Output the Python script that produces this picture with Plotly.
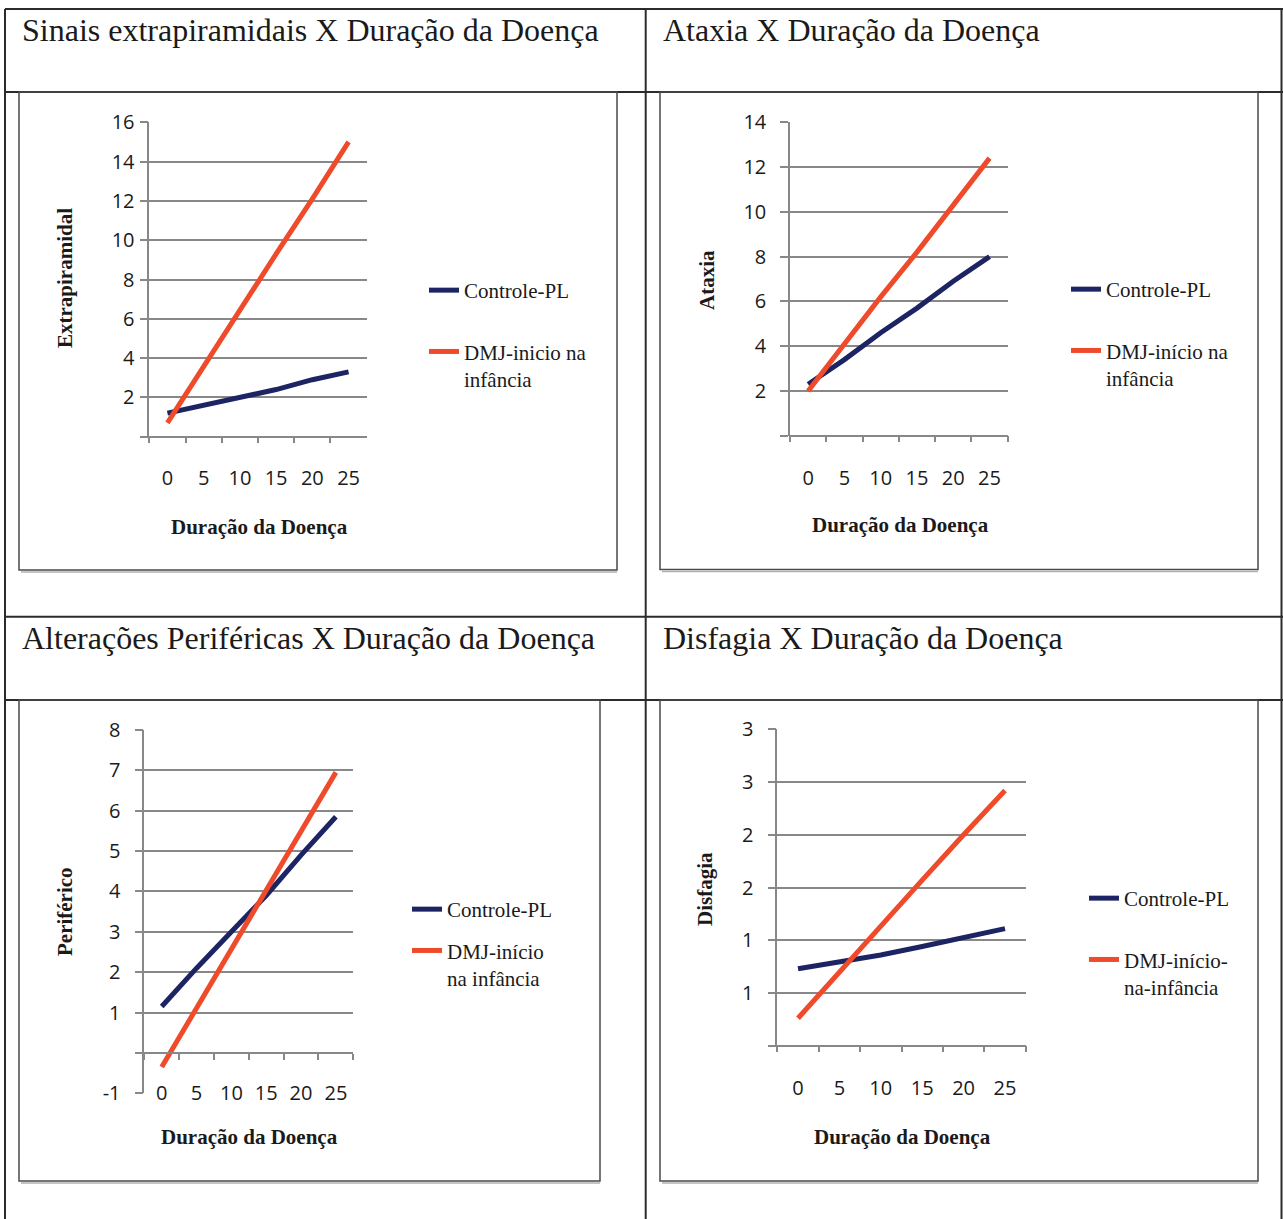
import plotly.graph_objects as go

# ---------------- data ----------------
duracao = ["0", "5", "10", "15", "20", "25"]

extra_controle = [1.2, 1.6, 2.0, 2.4, 2.9, 3.3]
extra_dmj = [0.7, 3.6, 6.4, 9.3, 12.1, 15.0]

ataxia_controle = [2.3, 3.4, 4.6, 5.7, 6.9, 8.0]
ataxia_dmj = [2.0, 4.1, 6.2, 8.2, 10.3, 12.4]

perif_controle = [1.15, 2.1, 3.0, 3.9, 4.9, 5.85]
perif_dmj = [-0.35, 1.1, 2.6, 4.0, 5.5, 6.95]

disf_controle = [0.73, 0.79, 0.86, 0.94, 1.03, 1.11]
disf_dmj = [0.26, 0.70, 1.13, 1.57, 2.00, 2.42]

extra_ticks = [0, 2, 4, 6, 8, 10, 12, 14, 16]
extra_ticktext = ["", "2", "4", "6", "8", "10", "12", "14", "16"]
ataxia_ticks = [0, 2, 4, 6, 8, 10, 12, 14]
ataxia_ticktext = ["", "2", "4", "6", "8", "10", "12", "14"]
perif_ticks = [-1, 0, 1, 2, 3, 4, 5, 6, 7, 8]
perif_ticktext = ["-1", "", "1", "2", "3", "4", "5", "6", "7", "8"]
disf_ticks = [0, 0.5, 1.0, 1.5, 2.0, 2.5, 3.0]
disf_ticktext = ["", "1", "1", "2", "2", "3", "3"]

titles = [
    "Sinais extrapiramidais X Duração da Doença",
    "Ataxia X Duração da Doença",
    "Alterações Periféricas X Duração da Doença",
    "Disfagia X Duração da Doença",
]
ytitles = ["Extrapiramidal", "Ataxia", "Periférico", "Disfagia"]
xtitle = "Duração da Doença"
leg_controle = "Controle-PL"
leg_dmj = ["DMJ-inicio na<br>infância", "DMJ-início na<br>infância",
           "DMJ-início<br>na infância", "DMJ-início-<br>na-infância"]

# ---------------- layout helpers ----------------
W, H = 1283, 1219
def fx(p): return p / W
def fy(p): return 1 - p / H

BLUE = "#1c2463"
RED = "#ef4a2a"
GRID = "#888888"
TXT = "#1a1a1a"
SERIF = "Liberation Serif"
SANS = "Open Sans"

panels = [
    dict(x0=149.3, x1=366.7, yt=122.3, yb=436.7, rng=[0, 16], tv=extra_ticks, tt=extra_ticktext,
         c=extra_controle, d=extra_dmj, stand=1, xs=24),
    dict(x0=790.0, x1=1007.7, yt=122.3, yb=435.7, rng=[0, 14], tv=ataxia_ticks, tt=ataxia_ticktext,
         c=ataxia_controle, d=ataxia_dmj, stand=10, xs=25),
    dict(x0=144.3, x1=353.3, yt=730.0, yb=1093.3, rng=[-1, 8], tv=perif_ticks, tt=perif_ticktext,
         c=perif_controle, d=perif_dmj, stand=10, xs=22),
    dict(x0=777.3, x1=1025.7, yt=729.3, yb=1045.7, rng=[0, 3], tv=disf_ticks, tt=disf_ticktext,
         c=disf_controle, d=disf_dmj, stand=10, xs=25),
]

legend_pos = [  # (text start x, first item center y, gap between item centers)
    (464, 290, 62), (1106, 289, 62), (447, 909, 42), (1124, 898, 62)
]
ytitle_pos = [(65, 278), (707, 280), (65, 912), (705, 889)]
xtitle_pos = [(259, 527), (900, 525), (249, 1137), (902, 1137)]
title_pos = [(20, 30), (661, 30), (20, 638), (661, 638)]

fig = go.Figure()
layout = dict(width=W, height=H,
              margin=dict(l=0, r=0, t=0, b=0, pad=0, autoexpand=False),
              paper_bgcolor="white", plot_bgcolor="white", showlegend=True)

annotations = []
shapes = []

for i, p in enumerate(panels):
    n = "" if i == 0 else str(i + 1)
    xa, ya = "x" + n, "y" + n
    lg = "legend" + n
    fig.add_trace(go.Scatter(x=duracao, y=p["c"], mode="lines", name=leg_controle,
                             line=dict(color=BLUE, width=5), xaxis=xa, yaxis=ya,
                             legend=lg, legendgroup="c" + str(i), hoverinfo="x+y"))
    fig.add_trace(go.Scatter(x=duracao, y=p["d"], mode="lines", name=leg_dmj[i],
                             line=dict(color=RED, width=5), xaxis=xa, yaxis=ya,
                             legend=lg, legendgroup="d" + str(i), hoverinfo="x+y"))

    ymin, ymax = p["rng"]
    yzero = p["yb"] - (0 - ymin) / (ymax - ymin) * (p["yb"] - p["yt"])
    layout["xaxis" + n] = dict(
        domain=[fx(p["x0"]), fx(p["x1"])], type="category", categoryorder="array",
        categoryarray=duracao, range=[-0.5, 5.5], tickson="boundaries",
        ticks="outside", ticklen=6, tickwidth=1.5, tickcolor=GRID,
        showline=True, linecolor=GRID, linewidth=1.5, showgrid=False, zeroline=False,
        anchor="free", position=fy(yzero), ticklabelstandoff=p["xs"], automargin=False,
        tickfont=dict(family=SANS, size=20, color=TXT), fixedrange=True)
    layout["yaxis" + n] = dict(
        domain=[fy(p["yb"]), fy(p["yt"])], range=[ymin, ymax], tickvals=p["tv"],
        ticktext=p["tt"], ticks="outside", ticklen=8, tickwidth=1.5, tickcolor=GRID,
        showline=True, linecolor=GRID, linewidth=1.5, showgrid=True, gridcolor=GRID,
        gridwidth=1.5, zeroline=False, anchor=xa, ticklabelstandoff=p["stand"],
        automargin=False, tickfont=dict(family=SANS, size=20, color=TXT), fixedrange=True)

    lx, ly, gap = legend_pos[i]
    layout[lg] = dict(x=fx(lx - 40), xanchor="left", y=fy(ly - 20), yanchor="top",
                      bgcolor="rgba(0,0,0,0)", font=dict(family=SERIF, size=21, color=TXT),
                      tracegroupgap=gap - 31, valign="top", traceorder="grouped",
                      itemclick=False, itemdoubleclick=False)

    tx, ty = title_pos[i]
    annotations.append(dict(text=titles[i], x=fx(tx), y=fy(ty), xref="paper", yref="paper",
                            xanchor="left", yanchor="middle", showarrow=False,
                            font=dict(family=SERIF, size=32, color=TXT)))
    ax_, ay_ = ytitle_pos[i]
    annotations.append(dict(text="<b>" + ytitles[i] + "</b>", x=fx(ax_), y=fy(ay_),
                            xref="paper", yref="paper", xanchor="center", yanchor="middle",
                            textangle=-90, showarrow=False,
                            font=dict(family=SERIF, size=21, color=TXT)))
    bx, by = xtitle_pos[i]
    annotations.append(dict(text="<b>" + xtitle + "</b>", x=fx(bx), y=fy(by),
                            xref="paper", yref="paper", xanchor="center", yanchor="middle",
                            showarrow=False, font=dict(family=SERIF, size=21, color=TXT)))

# table lines
LINE = "#2b2b2b"
def hline(y, x0=5, x1=1283):
    shapes.append(dict(type="line", xref="paper", yref="paper", x0=fx(x0), x1=fx(x1),
                       y0=fy(y), y1=fy(y), line=dict(color=LINE, width=2)))
def vline(x, y0=9, y1=1219):
    shapes.append(dict(type="line", xref="paper", yref="paper", x0=fx(x), x1=fx(x),
                       y0=fy(y0), y1=fy(y1), line=dict(color=LINE, width=2)))
for y in (9, 92, 616.7, 700):
    hline(y)
for x in (5, 645.7, 1281.5):
    vline(x)

# chart frames
frames = [(19, 617, 92, 570), (660, 1258, 92, 569.5), (19, 600, 700, 1181), (660, 1258, 700, 1181)]
for x0, x1, y0, y1 in frames:
    shapes.append(dict(type="rect", xref="paper", yref="paper", x0=fx(x0), x1=fx(x1),
                       y0=fy(y1), y1=fy(y0), line=dict(color="#4a4a4a", width=1.5)))
    shapes.append(dict(type="line", xref="paper", yref="paper", x0=fx(x0 + 2), x1=fx(x1),
                       y0=fy(y1 + 2), y1=fy(y1 + 2), line=dict(color="#b0b0b0", width=1.5)))

layout["annotations"] = annotations
layout["shapes"] = shapes
fig.update_layout(**layout)
fig.write_html("out.html")
